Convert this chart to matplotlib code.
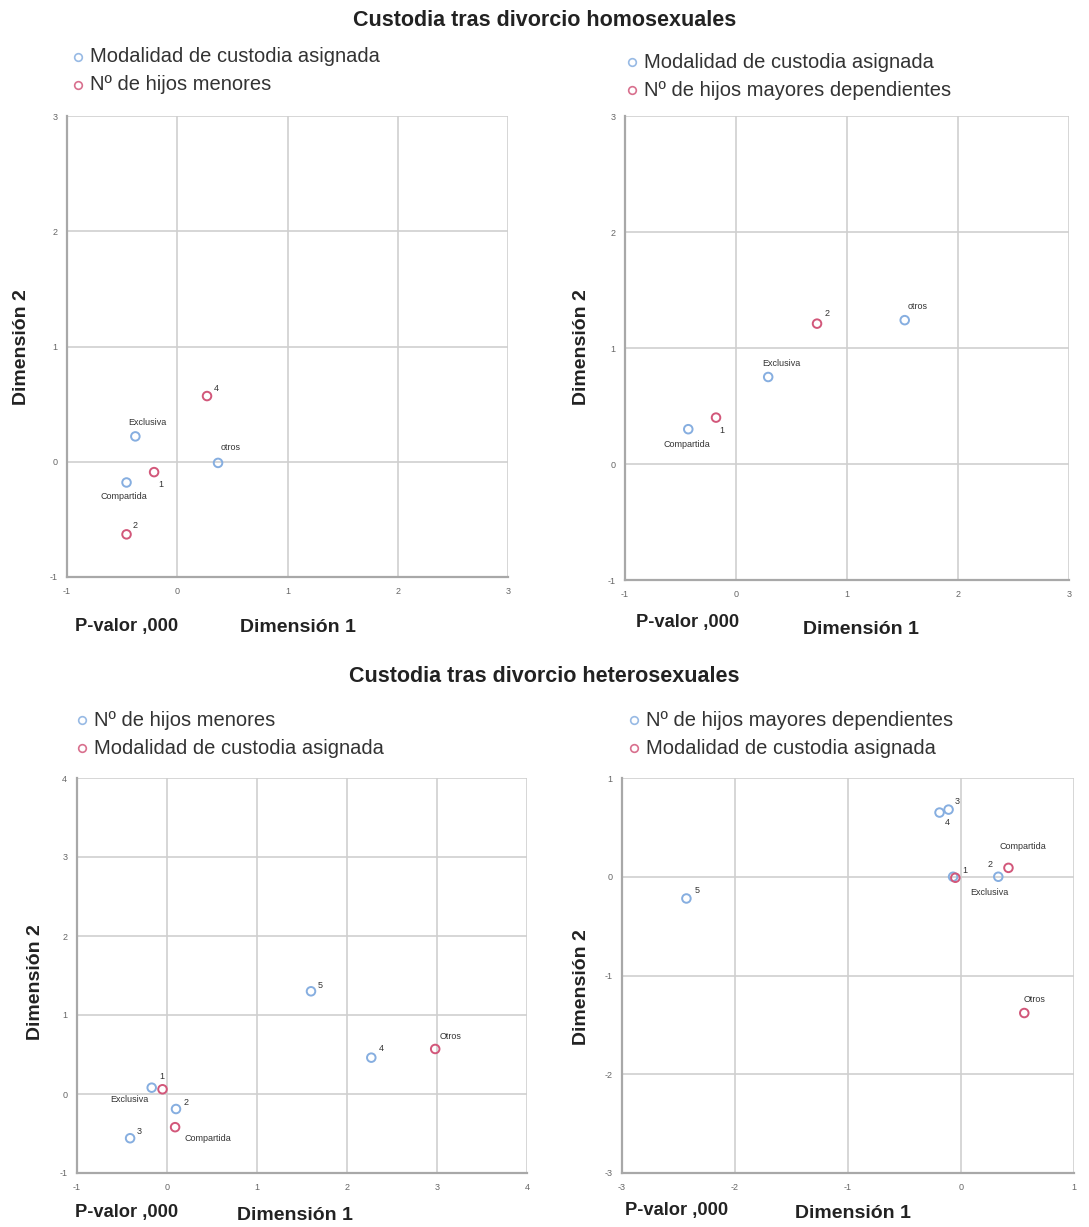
import matplotlib.pyplot as plt
from matplotlib.lines import Line2D

plt.rcParams['font.family'] = ['Liberation Sans', 'DejaVu Sans']
plt.rcParams['axes.unicode_minus'] = False

# --- datos ---
# homosexuales, panel 1
p1_mod_lab = ['Exclusiva', 'Compartida', 'otros']
p1_mod_x = [-0.38, -0.46, 0.37]
p1_mod_y = [0.22, -0.18, -0.01]
p1_hij_lab = ['4', '1', '2']
p1_hij_x = [0.27, -0.21, -0.46]
p1_hij_y = [0.57, -0.09, -0.63]

# homosexuales, panel 2
p2_mod_lab = ['Exclusiva', 'Compartida', 'otros']
p2_mod_x = [0.29, -0.43, 1.52]
p2_mod_y = [0.75, 0.30, 1.24]
p2_hij_lab = ['2', '1']
p2_hij_x = [0.73, -0.18]
p2_hij_y = [1.21, 0.40]

# heterosexuales, panel 3
p3_hij_lab = ['1', '2', '3', '5', '4']
p3_hij_x = [-0.17, 0.10, -0.41, 1.60, 2.27]
p3_hij_y = [0.08, -0.19, -0.56, 1.30, 0.46]
p3_mod_lab = ['Exclusiva', 'Compartida', 'Otros']
p3_mod_x = [-0.05, 0.09, 2.98]
p3_mod_y = [0.06, -0.42, 0.57]

# heterosexuales, panel 4
p4_hij_lab = ['5', '3', '4', '1', '2']
p4_hij_x = [-2.43, -0.11, -0.19, -0.07, 0.33]
p4_hij_y = [-0.22, 0.68, 0.65, 0.00, 0.00]
p4_mod_lab = ['Exclusiva', 'Compartida', 'Otros']
p4_mod_x = [-0.05, 0.42, 0.56]
p4_mod_y = [-0.01, 0.09, -1.38]

BLUE = '#86aee0'
RED = '#d2577a'

fig = plt.figure(figsize=(10.89, 12.27), dpi=100)
W, H = 1089, 1227


def ax_px(l, r, t, b):
    return fig.add_axes([l / W, 1 - b / H, (r - l) / W, (b - t) / H])


def style(ax, xlim, ylim):
    ax.set_xlim(*xlim)
    ax.set_ylim(*ylim)
    ax.set_xticks(range(xlim[0], xlim[1] + 1))
    ax.set_yticks(range(ylim[0], ylim[1] + 1))
    ax.grid(True, color='#cfcfcf', lw=1.2)
    ax.set_axisbelow(True)
    ax.tick_params(length=0, labelsize=6.5, labelcolor='#666666', pad=7)
    for s in ['top', 'right']:
        ax.spines[s].set_visible(False)
    for s in ['left', 'bottom']:
        ax.spines[s].set_color('#a8a8a8')
        ax.spines[s].set_linewidth(1.6)


def scatter(ax, xs, ys, labs, color, offs):
    ax.scatter(xs, ys, s=38, facecolors='none', edgecolors=color, linewidths=1.4, zorder=3)
    for x, y, lab, (dx, dy) in zip(xs, ys, labs, offs):
        ax.annotate(lab, (x, y), xytext=(dx, dy), textcoords='offset pixels',
                    ha='center', va='center', fontsize=6.5, color='#333333')


def legend(x, y, items):
    for i, (txt, col) in enumerate(items):
        yy = y + i * 28
        fig.add_artist(Line2D([x / W], [1 - yy / H], marker='o', markersize=5.5, mfc='none',
                              mec=col, mew=1.2, alpha=0.85, transform=fig.transFigure))
        fig.text((x + 12) / W, 1 - yy / H, txt, fontsize=14.5, color='#333333', va='center')


def bottom_text(x1, x2, y1, y2):
    fig.text(x1 / W, 1 - y1 / H, 'P-valor ,000', fontsize=13.2, fontweight='bold', color='#222222', va='center')
    fig.text(x2 / W, 1 - y2 / H, 'Dimensión 1', fontsize=14, fontweight='bold', color='#222222', va='center')


def ylabel(x, y):
    fig.text(x / W, 1 - y / H, 'Dimensión 2', fontsize=14, fontweight='bold', color='#222222',
             rotation=90, ha='center', va='center')


# titulos
fig.text(0.5, 1 - 20 / H, 'Custodia tras divorcio homosexuales', fontsize=15.5, fontweight='bold',
         color='#222222', ha='center', va='center')
fig.text(0.5, 1 - 677 / H, 'Custodia tras divorcio heterosexuales', fontsize=15.5, fontweight='bold',
         color='#222222', ha='center', va='center')

# panel 1
ax1 = ax_px(67, 508, 116, 577)
style(ax1, (-1, 3), (-1, 3))
scatter(ax1, p1_mod_x, p1_mod_y, p1_mod_lab, BLUE, [(12, 14), (-3, -14), (13, 15)])
scatter(ax1, p1_hij_x, p1_hij_y, p1_hij_lab, RED, [(9, 8), (7, -12), (9, 9)])
legend(78, 57, [('Modalidad de custodia asignada', BLUE), ('Nº de hijos menores', RED)])
bottom_text(75, 240, 627, 628)
ylabel(22, 347)

# panel 2
ax2 = ax_px(625, 1069, 116, 580)
style(ax2, (-1, 3), (-1, 3))
scatter(ax2, p2_mod_x, p2_mod_y, p2_mod_lab, BLUE, [(13, 13), (-1, -15), (13, 14)])
scatter(ax2, p2_hij_x, p2_hij_y, p2_hij_lab, RED, [(10, 10), (6, -13)])
legend(632, 62, [('Modalidad de custodia asignada', BLUE), ('Nº de hijos mayores dependientes', RED)])
bottom_text(636, 803, 622, 630)
ylabel(582, 347)

# panel 3
ax3 = ax_px(77, 527, 778, 1173)
style(ax3, (-1, 4), (-1, 4))
scatter(ax3, p3_hij_x, p3_hij_y, p3_hij_lab, BLUE, [(10, 11), (10, 7), (9, 7), (9, 6), (10, 9)])
scatter(ax3, p3_mod_x, p3_mod_y, p3_mod_lab, RED, [(-33, -10), (33, -11), (15, 12)])
legend(82, 720, [('Nº de hijos menores', BLUE), ('Modalidad de custodia asignada', RED)])
bottom_text(75, 237, 1213, 1215)
ylabel(35, 982)

# panel 4
ax4 = ax_px(622, 1074, 778, 1173)
style(ax4, (-3, 1), (-3, 1))
scatter(ax4, p4_hij_x, p4_hij_y, p4_hij_lab, BLUE, [(11, 8), (9, 8), (8, -10), (12, 6), (-8, 12)])
scatter(ax4, p4_mod_x, p4_mod_y, p4_mod_lab, RED, [(34, -15), (14, 21), (10, 14)])
legend(634, 720, [('Nº de hijos mayores dependientes', BLUE), ('Modalidad de custodia asignada', RED)])
bottom_text(625, 795, 1210, 1213)
ylabel(582, 987)

fig.savefig('out.png', dpi=100)
